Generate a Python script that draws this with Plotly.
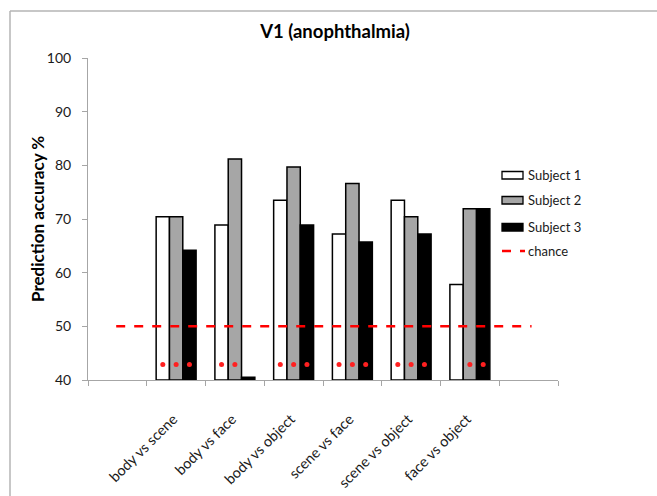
import plotly.graph_objects as go

categories = ["body vs scene", "body vs face", "body vs object",
              "scene vs face", "scene vs object", "face vs object"]
subject1 = [70.4, 68.9, 73.5, 67.2, 73.5, 57.8]
subject2 = [70.4, 81.2, 79.7, 76.6, 70.4, 71.9]
subject3 = [64.2, 40.5, 68.9, 65.7, 67.2, 71.9]
# significance markers (1 = asterisk shown under the bar)
sig1 = [1, 1, 1, 1, 1, 0]
sig2 = [1, 1, 1, 1, 1, 1]
sig3 = [1, 0, 1, 1, 1, 1]
chance = 50
star_level = 42.9
y_ticks = [40, 50, 60, 70, 80, 90, 100]
series_names = ["Subject 1", "Subject 2", "Subject 3"]
series_colors = ["#ffffff", "#a6a6a6", "#000000"]

FONT = "Lato, Carlito, 'Open Sans', sans-serif"
W, H = 657, 496
L, R, T, B = 88, 99, 58, 116
PW, PH = W - L - R, H - T - B


def px(x):
    return (x - L) / PW


def py(y):
    return (H - B - y) / PH


n = len(categories)
centers = [i + 1.5 for i in range(n)]  # first and last slots left empty
bargap = 0.32
bw = (1 - bargap) / 3

fig = go.Figure()
for name, vals, col in zip(series_names, [subject1, subject2, subject3], series_colors):
    fig.add_trace(go.Bar(
        x=centers, y=[v - 40 for v in vals], base=40, name=name,
        marker=dict(color=col, line=dict(color="#000000", width=1.5)),
        showlegend=False,
    ))

fig.add_trace(go.Scatter(
    x=[0.48, n + 1.55], y=[chance, chance], mode="lines", name="chance",
    line=dict(color="#ff0000", width=2.5, dash="dash"), showlegend=False,
))

sigs = [sig1, sig2, sig3]
sx, sy = [], []
for k in range(3):
    for i in range(n):
        if sigs[k][i]:
            sx.append(centers[i] + (k - 1) * bw)
            sy.append(star_level)
fig.add_trace(go.Scatter(
    x=sx, y=sy, mode="markers", showlegend=False,
    marker=dict(color="#ff2020", size=5, symbol="circle"),
))

fig.update_layout(
    width=W, height=H,
    margin=dict(l=L, r=R, t=T, b=B),
    paper_bgcolor="white", plot_bgcolor="white",
    barmode="group", bargap=bargap, bargroupgap=0,
    font=dict(family=FONT, color="#1a1a1a"),
    title=dict(text="V1 (anophthalmia)", x=335 / W, xanchor="center",
               xref="container", y=1 - 32 / H, yanchor="middle",
               yref="container",
               font=dict(size=18.5, weight="bold", color="#000000", family=FONT)),
    showlegend=False,
)

fig.update_xaxes(
    range=[0, n + 2], showgrid=False, zeroline=False, automargin=False,
    showline=True, linecolor="#a6a6a6", linewidth=1,
    tickmode="array", tickvals=[c - 0.05 for c in centers], ticktext=categories,
    tickangle=-45, ticks="", ticklabelstandoff=24,
    tickfont=dict(size=14.5, color="#1a1a1a"),
    minor=dict(tick0=0, dtick=1, ticks="outside", ticklen=5,
               tickcolor="#a6a6a6", showgrid=False),
)
fig.update_yaxes(
    range=[40, 100], tickmode="array", tickvals=y_ticks, automargin=False,
    showgrid=False, zeroline=False,
    showline=True, linecolor="#a6a6a6", linewidth=1,
    ticks="outside", ticklen=5, tickcolor="#a6a6a6", ticklabelstandoff=8,
    tickfont=dict(size=14, color="#1a1a1a"),
)

# y-axis title
fig.add_annotation(xref="paper", yref="paper", x=px(37), y=py(219),
                   text="Prediction accuracy %", textangle=-90, showarrow=False,
                   xanchor="center", yanchor="middle",
                   font=dict(size=17, weight="bold", color="#000000"))

# outer chart frame (left and top edges visible in the reference)
fig.add_shape(type="line", xref="paper", yref="paper",
              x0=px(10), x1=px(W + 20), y0=py(11), y1=py(11),
              line=dict(color="#b5b5b5", width=1.5))
fig.add_shape(type="line", xref="paper", yref="paper",
              x0=px(10), x1=px(10), y0=py(H + 20), y1=py(11),
              line=dict(color="#b5b5b5", width=1.5))

# legend (drawn to mimic the wide rectangular swatches of the reference)
rows = [175, 200, 227, 251]
for row, name, col in zip(rows, series_names, series_colors):
    fig.add_shape(type="rect", xref="paper", yref="paper",
                  x0=px(502), x1=px(523), y0=py(row + 4), y1=py(row - 3.5),
                  fillcolor=col, line=dict(color="#000000", width=1.3))
    fig.add_annotation(xref="paper", yref="paper", x=px(526), y=py(row),
                       text=name, showarrow=False, xanchor="left",
                       yanchor="middle", font=dict(size=13, color="#1a1a1a"))
fig.add_shape(type="line", xref="paper", yref="paper",
              x0=px(502), x1=px(525), y0=py(rows[3]), y1=py(rows[3]),
              line=dict(color="#ff0000", width=2.5, dash="dash"))
fig.add_annotation(xref="paper", yref="paper", x=px(526), y=py(rows[3]),
                   text="chance", showarrow=False, xanchor="left",
                   yanchor="middle", font=dict(size=13, color="#1a1a1a"))

fig.write_html("out.html", config={"displayModeBar": False},
               post_script="document.body.style.margin='0';")
